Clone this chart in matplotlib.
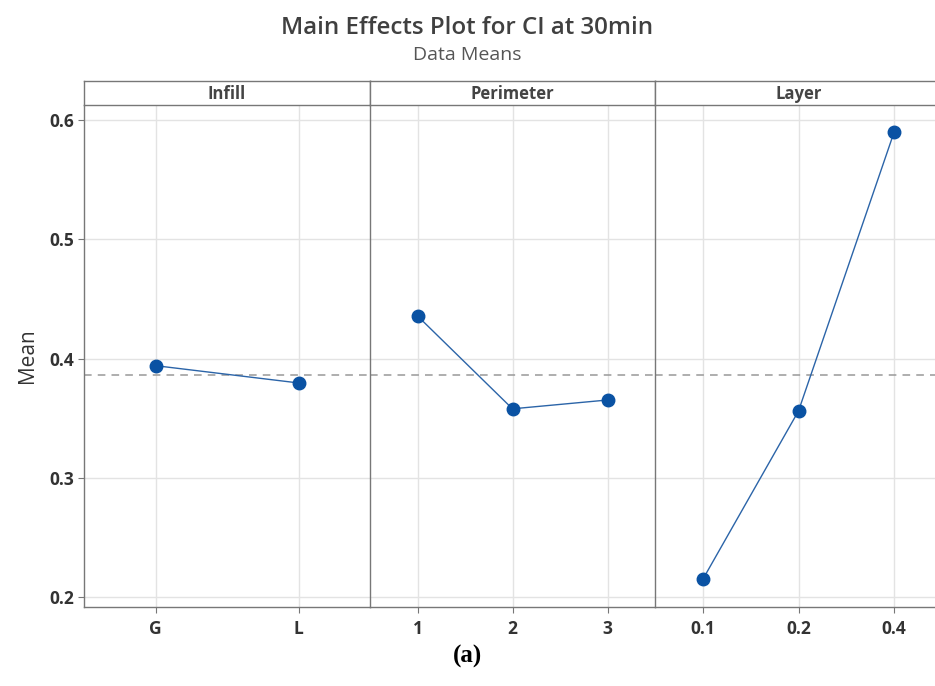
import matplotlib.pyplot as plt
import numpy as np

plt.rcParams['font.family'] = ['Open Sans', 'DejaVu Sans']

factors = ['Infill', 'Perimeter', 'Layer']
levels = [['G', 'L'], ['1', '2', '3'], ['0.1', '0.2', '0.4']]
means = [[0.394, 0.3795], [0.4357, 0.3578, 0.3652], [0.2148, 0.356, 0.590]]
grand_mean = 0.3865
yticks = [0.2, 0.3, 0.4, 0.5, 0.6]

W, H = 935, 686
fig = plt.figure(figsize=(W / 100, H / 100), dpi=100)

# panel edges in pixels (right panel runs past the image edge)
edges = [84, 370, 655, 942]
top_px, strip_top_px, bot_px = 105, 81, 607
dot = '#0a52a3'
frame = '#777777'
tick_col = '#333333'

for i, name in enumerate(factors):
    x0, x1 = edges[i], edges[i + 1]
    ax = fig.add_axes([x0 / W, 1 - bot_px / H, (x1 - x0) / W, (bot_px - top_px) / H])
    n = len(levels[i])
    xs = np.arange(n)
    ax.set_xlim(-0.5, n - 0.5)
    ax.set_ylim(0.1916, 0.6126)
    ax.set_yticks(yticks)
    ax.set_xticks(xs)
    ax.set_xticklabels(levels[i], fontsize=12.5, fontweight='bold', color=tick_col)
    ax.grid(True, color='#e3e3e3', linewidth=1)
    ax.set_axisbelow(True)
    ax.axhline(grand_mean, color='#999999', linestyle=(0, (5, 4)), linewidth=1.1, zorder=1)
    ax.plot(xs, means[i], '-', color='#2b64a8', linewidth=1, zorder=2)
    ax.plot(xs, means[i], 'o', color=dot, markersize=9, zorder=3)
    ax.spines['top'].set_visible(False)
    for s in ['left', 'right', 'bottom']:
        ax.spines[s].set_color(frame)
        ax.spines[s].set_linewidth(1)
    ax.spines['right'].set_visible(False)
    ax.tick_params(axis='x', length=4, color=frame, pad=5)
    if i == 0:
        ax.set_yticklabels([f'{v:.1f}' for v in yticks], fontsize=12.5,
                           fontweight='bold', color=tick_col)
        ax.tick_params(axis='y', length=4, color=frame, pad=3)
        ax.set_ylabel('Mean', fontsize=15, color='#333333', labelpad=8)
    else:
        ax.tick_params(axis='y', length=0, labelleft=False)

    # strip header
    sax = fig.add_axes([x0 / W, 1 - top_px / H, (x1 - x0) / W, (top_px - strip_top_px) / H])
    sax.set_xticks([])
    sax.set_yticks([])
    for s in sax.spines.values():
        s.set_color(frame)
        s.set_linewidth(1)
    sax.spines['right'].set_visible(i < 2)
    sax.text(0.5, 0.45, name, transform=sax.transAxes, ha='center', va='center',
             fontsize=12, fontweight='bold', color='#444444')

fig.text(0.5, 1 - 28 / H, 'Main Effects Plot for CI at 30min', ha='center', va='center',
         fontsize=17.4, fontweight='semibold', color='#404040')
fig.text(0.5, 1 - 55 / H, 'Data Means', ha='center', va='center',
         fontsize=14, color='#555555')
fig.text(0.5, 1 - 656 / H, '(a)', ha='center', va='center', fontsize=18,
         fontweight='bold', family=['Liberation Serif', 'DejaVu Serif'], color='black')

fig.savefig('out.png', dpi=100)
